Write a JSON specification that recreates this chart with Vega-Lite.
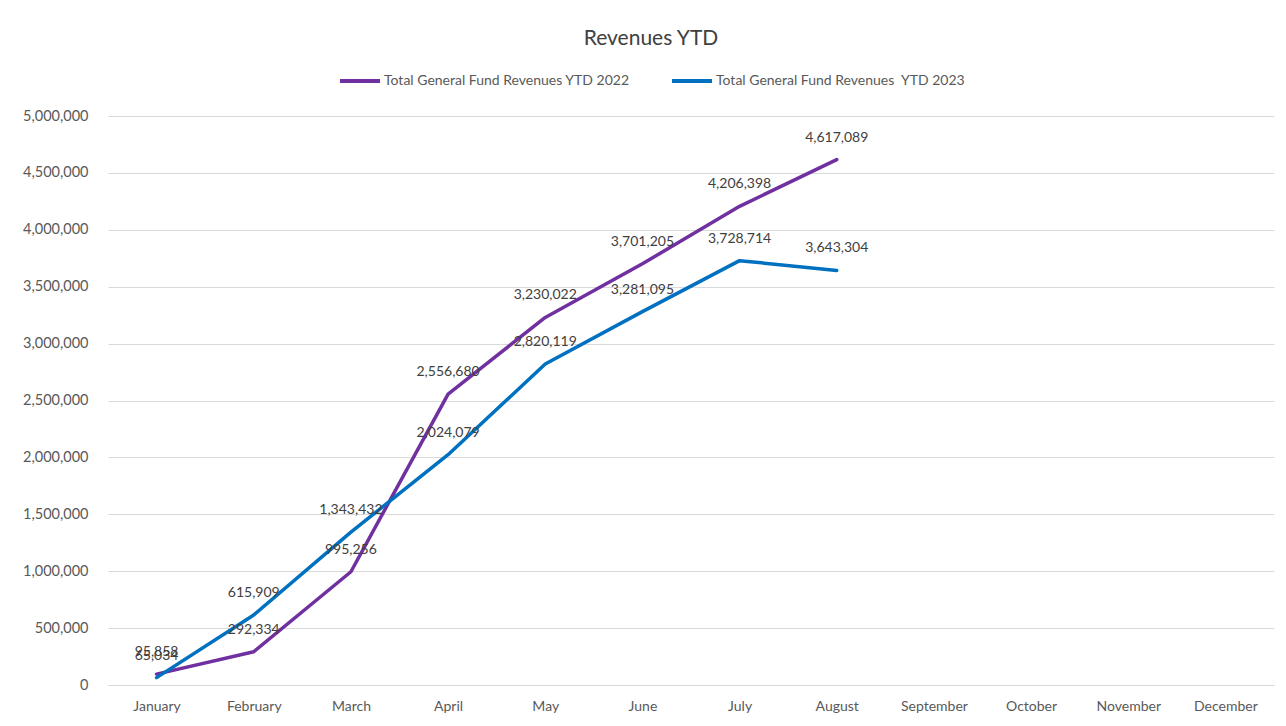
{
  "$schema": "https://vega.github.io/schema/vega-lite/v6.json",
  "autosize": {"type": "none"},
  "padding": {"left": 108, "top": 116, "right": 12, "bottom": 41},
  "width": 1166,
  "height": 569,
  "background": "white",
  "config": {
    "font": "Lato",
    "view": {"stroke": null}
  },
  "title": {
    "text": "Revenues YTD",
    "fontSize": 21,
    "fontWeight": "normal",
    "color": "#404040",
    "anchor": "middle",
    "dx": -40,
    "offset": 10
  },
  "data": {
    "values": [
      {"month": "January", "series": "Total General Fund Revenues YTD 2022", "value": 95858},
      {"month": "February", "series": "Total General Fund Revenues YTD 2022", "value": 292334},
      {"month": "March", "series": "Total General Fund Revenues YTD 2022", "value": 995256},
      {"month": "April", "series": "Total General Fund Revenues YTD 2022", "value": 2556680},
      {"month": "May", "series": "Total General Fund Revenues YTD 2022", "value": 3230022},
      {"month": "June", "series": "Total General Fund Revenues YTD 2022", "value": 3701205},
      {"month": "July", "series": "Total General Fund Revenues YTD 2022", "value": 4206398},
      {"month": "August", "series": "Total General Fund Revenues YTD 2022", "value": 4617089},
      {"month": "January", "series": "Total General Fund Revenues \u00a0YTD 2023", "value": 65034},
      {"month": "February", "series": "Total General Fund Revenues \u00a0YTD 2023", "value": 615909},
      {"month": "March", "series": "Total General Fund Revenues \u00a0YTD 2023", "value": 1343432},
      {"month": "April", "series": "Total General Fund Revenues \u00a0YTD 2023", "value": 2024079},
      {"month": "May", "series": "Total General Fund Revenues \u00a0YTD 2023", "value": 2820119},
      {"month": "June", "series": "Total General Fund Revenues \u00a0YTD 2023", "value": 3281095},
      {"month": "July", "series": "Total General Fund Revenues \u00a0YTD 2023", "value": 3728714},
      {"month": "August", "series": "Total General Fund Revenues \u00a0YTD 2023", "value": 3643304}
    ]
  },
  "encoding": {
    "x": {
      "field": "month",
      "type": "nominal",
      "scale": {
        "type": "point",
        "padding": 0.5,
        "domain": ["January", "February", "March", "April", "May", "June", "July", "August", "September", "October", "November", "December"]
      },
      "axis": {
        "title": null,
        "labelAngle": 0,
        "labelFontSize": 14,
        "labelColor": "#595959",
        "labelPadding": 14,
        "labelOverlap": false,
        "ticks": false,
        "domainColor": "#d9d9d9",
        "domainWidth": 1,
        "grid": false
      }
    },
    "y": {
      "field": "value",
      "type": "quantitative",
      "scale": {"domain": [0, 5000000], "nice": false},
      "axis": {
        "title": null,
        "values": [0, 500000, 1000000, 1500000, 2000000, 2500000, 3000000, 3500000, 4000000, 4500000, 5000000],
        "format": ",d",
        "labelFontSize": 14.5,
        "labelColor": "#595959",
        "labelPadding": 20,
        "labelOverlap": false,
        "ticks": false,
        "domain": false,
        "gridColor": "#d9d9d9",
        "gridWidth": 1
      }
    }
  },
  "layer": [
    {
      "mark": {"type": "line", "strokeWidth": 3.5, "strokeCap": "round", "strokeJoin": "round"},
      "encoding": {
        "color": {
          "field": "series",
          "type": "nominal",
          "scale": {
            "domain": ["Total General Fund Revenues YTD 2022", "Total General Fund Revenues \u00a0YTD 2023"],
            "range": ["#7030A0", "#0070C0"]
          },
          "legend": {
            "title": null,
            "orient": "none",
            "direction": "horizontal",
            "legendX": 230,
            "legendY": -57,
            "symbolType": "stroke",
            "symbolSize": 1600,
            "symbolStrokeWidth": 4,
            "labelFontSize": 14,
            "labelLimit": 400,
            "labelColor": "#595959",
            "labelOffset": 2,
            "columnPadding": 34
          }
        }
      }
    },
    {
      "mark": {"type": "text", "fontSize": 14, "color": "#404040", "dy": -22, "baseline": "middle"},
      "encoding": {
        "text": {"field": "value", "type": "quantitative", "format": ",d"},
        "detail": {"field": "series"}
      }
    }
  ]
}
